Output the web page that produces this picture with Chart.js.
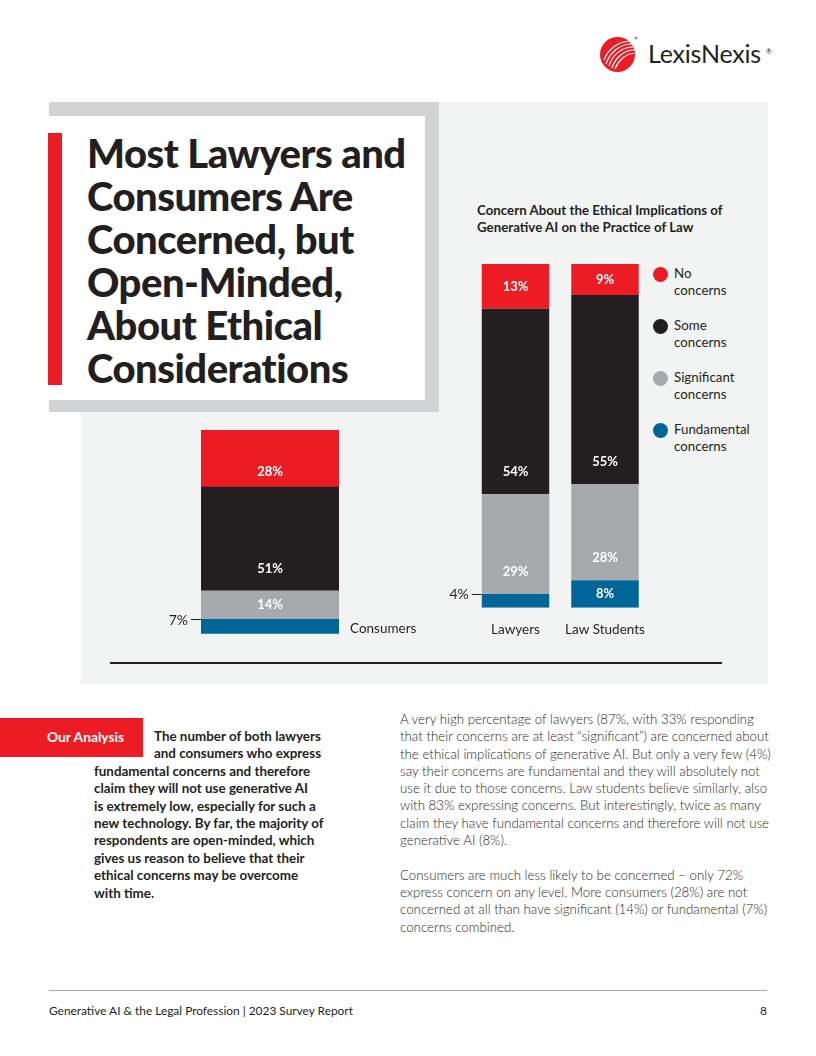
<!DOCTYPE html>
<html>
<head>
<meta charset="utf-8">
<script src="https://cdn.jsdelivr.net/npm/chart.js@4.4.1/dist/chart.umd.min.js"></script>
<style>
  html, body { margin: 0; padding: 0; background: #ffffff; }
  body { width: 816px; height: 1056px; position: relative; overflow: hidden; font-family: Lato, "Open Sans", sans-serif; color: #231f20; }
  .abs { position: absolute; }
  #panel { left: 81px; top: 102px; width: 687px; height: 582px; background: #f2f4f3; }
  #titleBorder { left: 49px; top: 102px; width: 390px; height: 310px; background: #d1d3d4; }
  #titleWhite { left: 49px; top: 116px; width: 376px; height: 284px; background: #ffffff; }
  #redBar { left: 48px; top: 133px; width: 14px; height: 252px; background: #ed1c24; }
  .tl { position: absolute; left: 87px; height: 43px; font-size: 40px; line-height: 43px; font-weight: 900; letter-spacing: -0.5px; white-space: nowrap; }
  #chartTitle { left: 477px; top: 202px; font-size: 13.3px; line-height: 17px; font-weight: 700; white-space: nowrap; }
  #legend { left: 652px; top: 265px; }
  .legItem { position: absolute; left: 0; width: 120px; height: 40px; }
  .legDot { position: absolute; left: 1px; top: 1.5px; width: 15px; height: 15px; border-radius: 50%; }
  .legText { position: absolute; left: 22px; top: 0; font-size: 13.3px; line-height: 17px; white-space: nowrap; }
  #rule { left: 110px; top: 662px; width: 612px; height: 1.5px; background: #231f20; }
  #analysisBox { left: 0; top: 718px; width: 143px; height: 39px; background: #ed1c24; }
  #analysisLbl { left: 47px; top: 728px; font-size: 13.8px; line-height: 17.4px; font-weight: 700; color: #ffffff; white-space: nowrap; }
  #bold1 { left: 154px; top: 728px; font-size: 13.4px; line-height: 17.4px; font-weight: 700; white-space: nowrap; }
  #bold2 { left: 94px; top: 762.8px; font-size: 13.4px; line-height: 17.4px; font-weight: 700; white-space: nowrap; }
  #body { left: 400px; top: 711px; font-size: 13.3px; line-height: 17.3px; font-weight: 300; white-space: nowrap; color: #2b2829; }
  #footRule { left: 49px; top: 990px; width: 718px; height: 1px; background: #a7a9ac; }
  #footText { left: 49px; top: 1003px; font-size: 11.9px; line-height: 16px; white-space: nowrap; }
  #pageNum { left: 760px; top: 1003px; font-size: 11.9px; line-height: 16px; }
  #logoText { left: 648px; top: 38px; font-size: 25px; line-height: 30px; font-weight: 400; white-space: nowrap; letter-spacing: -0.2px; }
  #logoReg { left: 766px; top: 47px; font-size: 7px; line-height: 8px; }
  canvas { position: absolute; }
</style>
</head>
<body>
<div class="abs" id="panel"></div>
<div class="abs" id="titleBorder"></div>
<div class="abs" id="titleWhite"></div>
<div class="abs" id="redBar"></div>
<div class="tl" style="top:132px">Most Lawyers and</div>
<div class="tl" style="top:175px">Consumers Are</div>
<div class="tl" style="top:218px">Concerned, but</div>
<div class="tl" style="top:261px">Open-Minded,</div>
<div class="tl" style="top:304px">About Ethical</div>
<div class="tl" style="top:347px">Considerations</div>

<svg class="abs" style="left:598px;top:34px" width="42" height="42" viewBox="0 0 42 42">
  <circle cx="19.5" cy="20.5" r="17.5" fill="#ed1c24"/>
  <g fill="none" stroke="#ffffff" stroke-width="1.2">
    <path d="M6 26 C 10 15, 20 8, 31 7"/>
    <path d="M8 30 C 12 18, 22 10, 34 10"/>
    <path d="M11 32 C 14 21, 24 13, 35 13"/>
    <path d="M14 34 C 17 24, 26 16, 36 16"/>
    <path d="M17 35 C 20 27, 28 19, 36 19.5"/>
  </g>
  <circle cx="38" cy="4" r="1.5" fill="#999"/>
</svg>
<div class="abs" id="logoText">LexisNexis</div>
<div class="abs" id="logoReg">®</div>

<div class="abs" id="chartTitle">Concern About the Ethical Implications of<br>Generative AI on the Practice of Law</div>
<div class="abs" id="legend"></div>

<canvas id="c1" width="290" height="230" style="left:150px;top:420px;width:290px;height:230px"></canvas>
<canvas id="c2" width="230" height="400" style="left:440px;top:250px;width:230px;height:400px"></canvas>

<div class="abs" id="rule"></div>

<div class="abs" id="analysisBox"></div>
<div class="abs" id="analysisLbl">Our Analysis</div>
<div class="abs" id="bold1">The number of both lawyers<br>and consumers who express</div>
<div class="abs" id="bold2">fundamental concerns and therefore<br>claim they will not use generative AI<br>is extremely low, especially for such a<br>new technology. By far, the majority of<br>respondents are open-minded, which<br>gives us reason to believe that their<br>ethical concerns may be overcome<br>with time.</div>

<div class="abs" id="body">A very high percentage of lawyers (87%, with 33% responding<br>that their concerns are at least “significant”) are concerned about<br>the ethical implications of generative AI. But only a very few (4%)<br>say their concerns are fundamental and they will absolutely not<br>use it due to those concerns. Law students believe similarly, also<br>with 83% expressing concerns. But interestingly, twice as many<br>claim they have fundamental concerns and therefore will not use<br>generative AI (8%).<br><br>Consumers are much less likely to be concerned – only 72%<br>express concern on any level. More consumers (28%) are not<br>concerned at all than have significant (14%) or fundamental (7%)<br>concerns combined.</div>

<div class="abs" id="footRule"></div>
<div class="abs" id="footText">Generative AI &amp; the Legal Profession | 2023 Survey Report</div>
<div class="abs" id="pageNum">8</div>

<script>
// ---- Data ----
const categories = ['Consumers', 'Lawyers', 'Law Students'];
const noConcerns = [28, 13, 9];
const someConcerns = [51, 54, 55];
const significantConcerns = [14, 29, 28];
const fundamentalConcerns = [7, 4, 8];
const seriesNames = ['No concerns', 'Some concerns', 'Significant concerns', 'Fundamental concerns'];
const legendLines = [['No', 'concerns'], ['Some', 'concerns'], ['Significant', 'concerns'], ['Fundamental', 'concerns']];
const colors = ['#ed1c24', '#231f20', '#a7a9ac', '#006699'];

// ---- Legend (HTML) ----
const legend = document.getElementById('legend');
seriesNames.forEach((name, i) => {
  const item = document.createElement('div');
  item.className = 'legItem';
  item.style.top = (i * 52) + 'px';
  const dot = document.createElement('div');
  dot.className = 'legDot';
  dot.style.background = colors[i];
  const txt = document.createElement('div');
  txt.className = 'legText';
  txt.innerHTML = legendLines[i].join('<br>');
  item.appendChild(dot); item.appendChild(txt);
  legend.appendChild(item);
});

// ---- Label plugin ----
const labelPlugin = {
  id: 'segLabels',
  afterDatasetsDraw(chart, args, opts) {
    const ctx = chart.ctx;
    ctx.save();
    chart.data.datasets.forEach((ds, di) => {
      const meta = chart.getDatasetMeta(di);
      meta.data.forEach((bar, i) => {
        const v = ds.data[i];
        const top = bar.y, base = bar.base, h = base - top;
        const left = bar.x - bar.width / 2;
        const txt = v + '%';
        if (h < 20) {
          ctx.strokeStyle = '#231f20';
          ctx.lineWidth = 1;
          ctx.beginPath();
          ctx.moveTo(left - 10, Math.round(top) + 0.5);
          ctx.lineTo(left, Math.round(top) + 0.5);
          ctx.stroke();
          ctx.fillStyle = '#231f20';
          ctx.font = '400 14px Lato';
          ctx.textAlign = 'right';
          ctx.textBaseline = 'middle';
          ctx.fillText(txt, left - 13, top + 1);
        } else {
          ctx.fillStyle = '#ffffff';
          ctx.font = '700 13px Lato';
          ctx.textAlign = 'center';
          ctx.textBaseline = 'middle';
          let y;
          if (h >= 80) y = base - 22;
          else if (h >= 50) y = base - 15;
          else y = (top + base) / 2;
          ctx.fillText(txt, bar.x, y);
        }
      });
    });
    // category labels
    const meta0 = chart.getDatasetMeta(0);
    const xScale = chart.scales.x;
    ctx.fillStyle = '#231f20';
    ctx.font = '400 13.5px Lato';
    ctx.textBaseline = 'middle';
    chart.data.labels.forEach((lab, i) => {
      const bar = meta0.data[i];
      const cx = xScale.getPixelForValue(i);
      if (opts.pos === 'right') {
        ctx.textAlign = 'left';
        ctx.fillText(lab, cx + bar.width / 2 + 11, bar.base - 5);
      } else {
        ctx.textAlign = 'center';
        ctx.fillText(lab, cx, bar.base + 21.5);
      }
    });
    ctx.restore();
  }
};

function makeChart(id, idxs, barPct, padding, pos) {
  const order = [fundamentalConcerns, significantConcerns, someConcerns, noConcerns];
  const orderColors = [colors[3], colors[2], colors[1], colors[0]];
  const orderNames = [seriesNames[3], seriesNames[2], seriesNames[1], seriesNames[0]];
  return new Chart(document.getElementById(id), {
    type: 'bar',
    data: {
      labels: idxs.map(i => categories[i]),
      datasets: order.map((arr, k) => ({
        label: orderNames[k],
        data: idxs.map(i => arr[i]),
        backgroundColor: orderColors[k],
        borderWidth: 0,
        barPercentage: barPct,
        categoryPercentage: 1
      }))
    },
    options: {
      responsive: false,
      animation: false,
      devicePixelRatio: 1,
      layout: { padding: padding },
      plugins: { legend: { display: false }, tooltip: { enabled: false }, segLabels: { pos: pos } },
      scales: {
        x: { stacked: true, display: false },
        y: { stacked: true, display: false, min: 0, max: 100 }
      }
    },
    plugins: [labelPlugin]
  });
}

makeChart('c1', [0], 1, { left: 51, right: 101, top: 10, bottom: 16.3 }, 'right');
makeChart('c2', [1, 2], 0.754, { left: 30.75, right: 20.25, top: 14, bottom: 42.3 }, 'below');
</script>
</body>
</html>
